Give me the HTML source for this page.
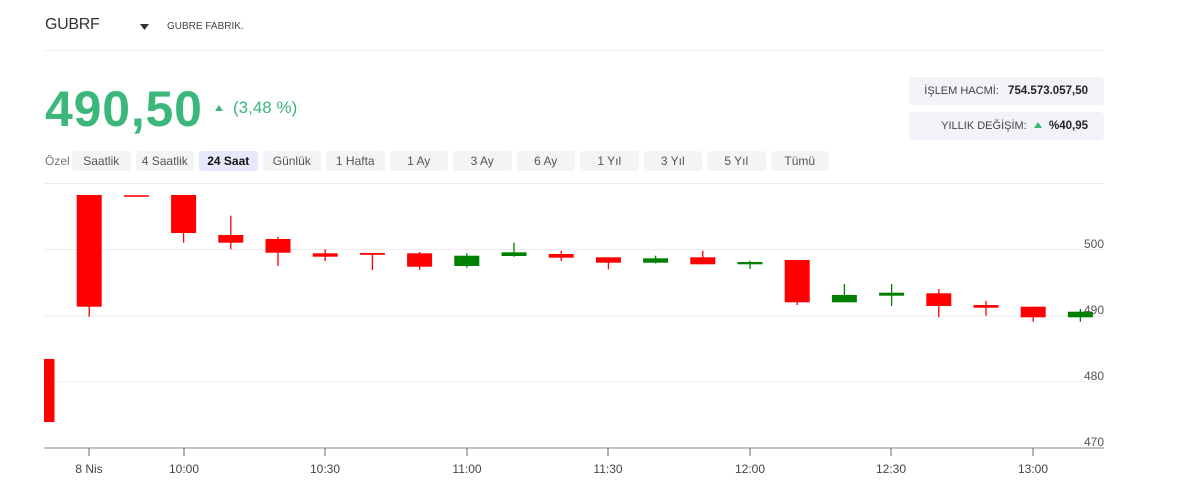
<!DOCTYPE html>
<html>
<head>
<meta charset="utf-8">
<style>
  html, body { margin:0; padding:0; background:#fff; }
  body { width:1200px; height:501px; position:relative; overflow:hidden; font-family:"Liberation Sans", Arial, sans-serif; }
  .abs { position:absolute; white-space:nowrap; }
  .btn { position:absolute; top:151px; height:20px; width:58.5px; background:#f3f4f6; border-radius:3px; font-size:12px; color:#555; text-align:center; line-height:20px; }
  .btn.sel { background:#e6e9fb; color:#111; font-weight:bold; }
  .box { position:absolute; left:909px; width:195px; height:28px; background:#f1f3f8; border-radius:4px; font-size:11px; color:#444; line-height:28px; text-align:right; box-sizing:border-box; padding-right:16px; }
  .box b { color:#222; font-size:11.5px; }
</style>
</head>
<body>
  <div class="abs" style="left:45px;top:16px;font-size:16px;color:#333;letter-spacing:-0.3px;">GUBRF</div>
  <svg class="abs" style="left:140px;top:23px" width="10" height="8"><polygon points="0,1 9,1 4.5,7" fill="#333"/></svg>
  <div class="abs" style="left:167px;top:21px;font-size:10px;color:#444;">GUBRE FABRIK.</div>
  <div class="abs" style="left:45px;top:50px;width:1059px;height:1px;background:#eceef1;"></div>

  <div class="abs" style="left:45px;top:80px;font-size:50px;font-weight:bold;color:#3bb77b;letter-spacing:0.8px;">490,50</div>
  <svg class="abs" style="left:214px;top:104px" width="10" height="8"><polygon points="1,7 9,7 5,1" fill="#3bb77b"/></svg>
  <div class="abs" style="left:233px;top:98px;font-size:17px;color:#3bb77b;">(3,48 %)</div>

  <div class="box" style="top:77px;">İŞLEM HACMİ:&nbsp;&nbsp; <b>754.573.057,50</b></div>
  <div class="box" style="top:112px;">YILLIK DEĞİŞİM:&nbsp;&nbsp;<svg width="10" height="8" style="vertical-align:0px"><polygon points="1,7 9,7 5,1" fill="#3bb77b"/></svg>&nbsp; <b>%40,95</b></div>

  <div class="abs" style="left:45px;top:154px;font-size:12px;color:#777;">Özel</div>
  <div class="btn" style="left:72px;">Saatlik</div>
  <div class="btn" style="left:135.5px;">4 Saatlik</div>
  <div class="btn sel" style="left:199px;">24 Saat</div>
  <div class="btn" style="left:262.5px;">Günlük</div>
  <div class="btn" style="left:326px;">1 Hafta</div>
  <div class="btn" style="left:389.5px;">1 Ay</div>
  <div class="btn" style="left:453px;">3 Ay</div>
  <div class="btn" style="left:516.5px;">6 Ay</div>
  <div class="btn" style="left:580px;">1 Yıl</div>
  <div class="btn" style="left:643.5px;">3 Yıl</div>
  <div class="btn" style="left:707px;">5 Yıl</div>
  <div class="btn" style="left:770.5px;">Tümü</div>

  <svg class="abs" style="left:0;top:0" width="1200" height="501" xmlns="http://www.w3.org/2000/svg">
    <defs><clipPath id="pa"><rect x="44" y="175" width="1060" height="273"/></clipPath></defs>
    <g stroke="#ebebeb" stroke-width="1">
      <line x1="44" y1="183.5" x2="1104" y2="183.5"/>
      <line x1="44" y1="249.5" x2="1104" y2="249.5"/>
      <line x1="44" y1="316" x2="1104" y2="316"/>
      <line x1="44" y1="382" x2="1104" y2="382"/>
    </g>
    <line x1="44" y1="448" x2="1104" y2="448" stroke="#888" stroke-width="1"/>
    <g font-family="Liberation Sans, Arial, sans-serif" font-size="12" fill="#555" text-anchor="end">
      <text x="1104" y="248">500</text>
      <text x="1104" y="314">490</text>
      <text x="1104" y="380">480</text>
      <text x="1104" y="446">470</text>
    </g>
    <g stroke="#666" stroke-width="1">
      <line x1="89" y1="448" x2="89" y2="456"/>
      <line x1="184" y1="448" x2="184" y2="456"/>
      <line x1="325" y1="448" x2="325" y2="456"/>
      <line x1="467" y1="448" x2="467" y2="456"/>
      <line x1="608" y1="448" x2="608" y2="456"/>
      <line x1="750" y1="448" x2="750" y2="456"/>
      <line x1="891" y1="448" x2="891" y2="456"/>
      <line x1="1033" y1="448" x2="1033" y2="456"/>
    </g>
    <g font-family="Liberation Sans, Arial, sans-serif" font-size="12" fill="#444" text-anchor="middle">
      <text x="89" y="473">8 Nis</text>
      <text x="184" y="473">10:00</text>
      <text x="325" y="473">10:30</text>
      <text x="467" y="473">11:00</text>
      <text x="608" y="473">11:30</text>
      <text x="750" y="473">12:00</text>
      <text x="891" y="473">12:30</text>
      <text x="1033" y="473">13:00</text>
    </g>
    <g clip-path="url(#pa)">
      <g fill="#ff0000" stroke="#ff0000">
        <rect x="29.5" y="359" width="25" height="63" stroke="none"/>
        <line x1="89.2" y1="195" x2="89.2" y2="316.7" stroke-width="1.3"/><rect x="76.7" y="195" width="25" height="111.7" stroke="none"/>
        <rect x="123.9" y="195.3" width="25" height="1.5" stroke="none"/>
        <line x1="183.6" y1="195" x2="183.6" y2="242.7" stroke-width="1.3"/><rect x="171.1" y="195" width="25" height="38" stroke="none"/>
        <line x1="230.8" y1="215.7" x2="230.8" y2="249.3" stroke-width="1.3"/><rect x="218.3" y="235" width="25" height="7.7" stroke="none"/>
        <line x1="278" y1="236.7" x2="278" y2="266" stroke-width="1.3"/><rect x="265.5" y="239" width="25" height="13.7" stroke="none"/>
        <line x1="325.2" y1="249" x2="325.2" y2="261" stroke-width="1.3"/><rect x="312.7" y="253.3" width="25" height="3.4" stroke="none"/>
        <line x1="372.4" y1="253" x2="372.4" y2="270" stroke-width="1.3"/><rect x="359.9" y="253" width="25" height="1.8" stroke="none"/>
        <line x1="419.6" y1="252" x2="419.6" y2="270" stroke-width="1.3"/><rect x="407.1" y="253.3" width="25" height="13.4" stroke="none"/>
        <line x1="561.2" y1="250.7" x2="561.2" y2="261" stroke-width="1.3"/><rect x="548.7" y="254" width="25" height="3.7" stroke="none"/>
        <line x1="608.4" y1="257.3" x2="608.4" y2="269.3" stroke-width="1.3"/><rect x="595.9" y="257.3" width="25" height="5.4" stroke="none"/>
        <line x1="702.8" y1="250.7" x2="702.8" y2="264.3" stroke-width="1.3"/><rect x="690.3" y="257.3" width="25" height="7" stroke="none"/>
        <line x1="797.2" y1="260" x2="797.2" y2="305" stroke-width="1.3"/><rect x="784.7" y="260" width="25" height="42.3" stroke="none"/>
        <line x1="938.8" y1="289" x2="938.8" y2="317.3" stroke-width="1.3"/><rect x="926.3" y="293.3" width="25" height="12.7" stroke="none"/>
        <line x1="986" y1="300.7" x2="986" y2="315.7" stroke-width="1.3"/><rect x="973.5" y="305" width="25" height="2.7" stroke="none"/>
        <line x1="1033.2" y1="306.7" x2="1033.2" y2="321.7" stroke-width="1.3"/><rect x="1020.7" y="306.7" width="25" height="10.6" stroke="none"/>
      </g>
      <g fill="#008000" stroke="#008000">
        <line x1="466.8" y1="253.3" x2="466.8" y2="267.7" stroke-width="1.3"/><rect x="454.3" y="255.7" width="25" height="10.3" stroke="none"/>
        <line x1="514" y1="242.7" x2="514" y2="256.7" stroke-width="1.3"/><rect x="501.5" y="252.3" width="25" height="3.7" stroke="none"/>
        <line x1="655.6" y1="255.7" x2="655.6" y2="263.3" stroke-width="1.3"/><rect x="643.1" y="258.3" width="25" height="4.4" stroke="none"/>
        <line x1="750" y1="260.7" x2="750" y2="269" stroke-width="1.3"/><rect x="737.5" y="262" width="25" height="2.3" stroke="none"/>
        <line x1="844.4" y1="284" x2="844.4" y2="302.3" stroke-width="1.3"/><rect x="831.9" y="295" width="25" height="7.3" stroke="none"/>
        <line x1="891.6" y1="284" x2="891.6" y2="306" stroke-width="1.3"/><rect x="879.1" y="292.7" width="25" height="3" stroke="none"/>
        <line x1="1080.4" y1="309" x2="1080.4" y2="321.7" stroke-width="1.3"/><rect x="1067.9" y="311.7" width="25" height="5.6" stroke="none"/>
      </g>
    </g>
  </svg>
</body>
</html>
